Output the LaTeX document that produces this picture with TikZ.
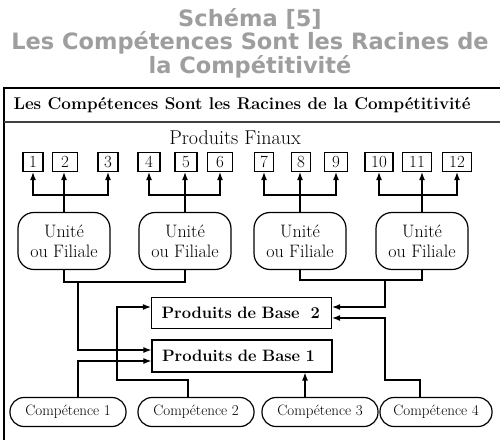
\documentclass[tikz,border=0pt]{standalone}
\usepackage{fontspec}
\newfontfamily\titlefont{DejaVu Sans}
\usetikzlibrary{arrows.meta}
\definecolor{titlegray}{RGB}{158,158,158}
\tikzset{
  line/.style={line width=1.2pt},
  arr/.style={line, -{Latex[length=8pt,width=6pt]}},
  prod/.style={draw, line width=1.2pt, minimum height=19pt, inner sep=1pt,
    font=\fontsize{17}{17}\selectfont},
  unit/.style={draw, line width=1.2pt, rounded corners=16pt, minimum width=92pt,
    minimum height=57pt, align=center, font=\fontsize{18}{20}\selectfont},
  base/.style={draw, line width=1.2pt, minimum height=31pt, text width=160pt,
    inner xsep=10pt, align=left, font=\fontsize{16.5}{16.5}\selectfont\bfseries},
  comp/.style={draw, line width=1.2pt, rounded corners=14pt, minimum width=116pt,
    minimum height=29pt, font=\fontsize{15}{15}\selectfont},
}
\begin{document}
\begin{tikzpicture}[x=1pt,y=-1pt]
\useasboundingbox (0,0) rectangle (500,439);
% titre
\node[align=center, text=titlegray, font=\titlefont\fontsize{22.5}{23.5}\selectfont\bfseries]
  (title) at (250,43) {Schéma [5]\\Les Compétences Sont les Racines de\\la Compétitivité};
% cadre
\draw[line width=2.4pt] (501,88) -- (4,88) -- (4,440);
\draw[line width=1.6pt, black!75] (4,122) -- (501,122);
\node[anchor=west, font=\fontsize{17}{17}\selectfont\bfseries] (head) at (10,105)
  {Les Compétences Sont les Racines de la Compétitivité};
\node[font=\fontsize{20}{20}\selectfont] (fin) at (235,138) {Produits Finaux};
% produits finaux
\foreach \n/\x/\w in {1/33/20,2/65/25,3/108/20,4/149/22,5/186/22,6/220/25,
    7/264/19,8/301/19,9/336/23,10/379/28,11/417/29,12/457/29}
  \node[prod, minimum width=\w pt] (p\n) at (\x,162) {\n};
% unites
\foreach \n/\x in {1/64,2/185,3/300,4/422}
  \node[unit] (u\n) at (\x,241) {Unité\\ou Filiale};
\foreach \u/\a/\b/\c in {1/1/2/3,2/4/5/6,3/7/8/9,4/10/11/12} {
  \draw[line] (u\u.north) -- (u\u.north |- 0,195) coordinate (b\u);
  \draw[arr] (b\u) -| (p\a.south);
  \draw[arr] (b\u) -- (b\u |- p\b.south);
  \draw[arr] (b\u) -| (p\c.south);
}
% produits de base
\node[base] (base2) at (241.5,313) {Produits de Base\ \ 2};
\node[base, minimum height=32pt] (base1) at (242,356) {Produits de Base 1};
% competences
\node[comp] (c1) at (68,412) {Compétence 1};
\node[comp] (c2) at (196,412) {Compétence 2};
\node[comp] (c3) at (320,412) {Compétence 3};
\node[comp, minimum width=112pt] (c4) at (436,412) {Compétence 4};
% liaisons
\draw[line] (u1.south) |- (u2.south |- 0,282) -- (u2.south);
\coordinate (j1) at (78,282);
\draw[arr] (j1) |- ([yshift=6pt]base1.west);
\draw[line] (u3.south) |- (u4.south |- 0,280) -- (u4.south);
\coordinate (j2) at (385,280);
\draw[arr] (j2) |- ([yshift=6pt]base2.east);
\draw[arr] ([xshift=10pt]c1.north) |- ([yshift=-5pt]base1.west);
\draw[arr] ([xshift=-8pt]c2.north) |- (117,380) |- ([yshift=6pt]base2.west);
\draw[arr] ([xshift=-15pt]c3.north) -- ([xshift=-15pt]c3.north |- base1.south);
\draw[arr] ([xshift=-16pt]c4.north) |- (385,380) |- ([yshift=-5pt]base2.east);
\end{tikzpicture}
\end{document}
